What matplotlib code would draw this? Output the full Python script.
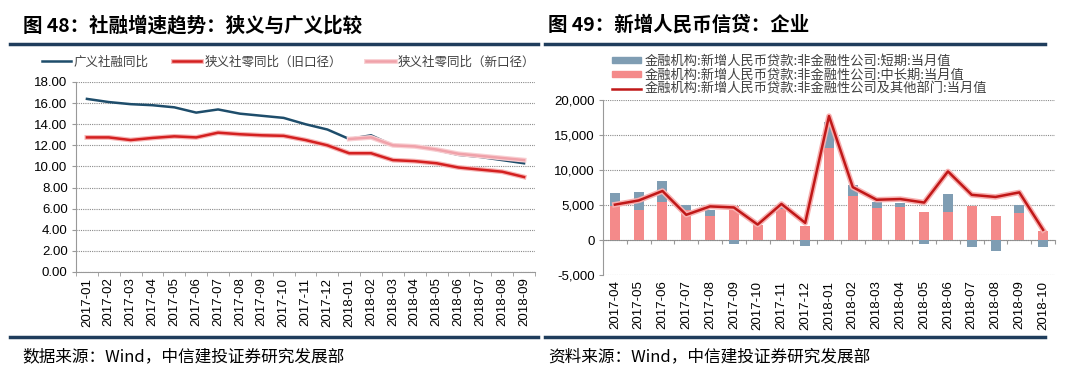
import numpy as np
import matplotlib
matplotlib.use('Agg')
from matplotlib import pyplot as plt
from matplotlib import patheffects as pe
from matplotlib.lines import Line2D
from matplotlib.patches import Patch

plt.rcParams['font.family'] = ['Liberation Sans', 'Noto Sans CJK SC', 'DejaVu Sans']
plt.rcParams['axes.unicode_minus'] = False

# 图48 数据
months48 = ['2017-01', '2017-02', '2017-03', '2017-04', '2017-05', '2017-06', '2017-07',
            '2017-08', '2017-09', '2017-10', '2017-11', '2017-12', '2018-01', '2018-02',
            '2018-03', '2018-04', '2018-05', '2018-06', '2018-07', '2018-08', '2018-09']
broad = [16.4, 16.1, 15.9, 15.8, 15.6, 15.1, 15.4, 15.0, 14.8, 14.6, 14.0, 13.5,
         12.6, 12.95, 12.0, 11.9, 11.55, 11.1, 10.9, 10.6, 10.3]
narrow_old = [12.75, 12.75, 12.5, 12.7, 12.85, 12.75, 13.2, 13.05, 12.95, 12.9, 12.5, 12.0,
              11.25, 11.25, 10.6, 10.5, 10.3, 9.9, 9.7, 9.5, 9.0]
narrow_new = [np.nan] * 12 + [12.6, 12.75, 12.0, 11.9, 11.6, 11.2, 11.0, 10.8, 10.6]

# 图49 数据
months49 = ['2017-04', '2017-05', '2017-06', '2017-07', '2017-08', '2017-09', '2017-10',
            '2017-11', '2017-12', '2018-01', '2018-02', '2018-03', '2018-04', '2018-05',
            '2018-06', '2018-07', '2018-08', '2018-09', '2018-10']
short_term = [1800, 2550, 2950, 650, 850, -530, 0, 350, -900, 3650, 1650, 850, 700, -550,
              2550, -950, -1550, 1100, -1000]
mid_long = [4900, 4300, 5500, 4300, 3500, 4800, 2200, 4450, 2050, 13150, 6250, 4550, 4650,
            4000, 4000, 4800, 3450, 3850, 1350]
total = [5050, 5650, 7000, 3600, 4800, 4650, 2200, 5150, 2450, 17700, 7550, 5750, 5850,
         5350, 9800, 6450, 6150, 6800, 1450]

navy = '#1f3d5c'
grid_kw = dict(color='#8a8a8a', linestyle=(0, (1, 1)), linewidth=0.8)

fig = plt.figure(figsize=(10.8, 3.78), dpi=100)

# 标题和分隔线
fig.text(23 / 1080, 1 - 25 / 378, '图 48：社融增速趋势：狭义与广义比较', fontsize=14,
         fontweight='bold', va='center', family=['Noto Sans CJK SC'])
fig.text(548 / 1080, 1 - 25 / 378, '图 49：新增人民币信贷：企业', fontsize=14,
         fontweight='bold', va='center', family=['Noto Sans CJK SC'])
for x0, x1 in [(10, 538), (545, 1045)]:
    for yy in [44, 337]:
        fig.lines.append(Line2D([x0 / 1080, x1 / 1080], [1 - yy / 378, 1 - yy / 378],
                                transform=fig.transFigure, color=navy, linewidth=2.5))
fig.text(22 / 1080, 1 - 357 / 378, '数据来源：Wind，中信建投证券研究发展部', fontsize=12,
         va='center', style='italic', family=['Noto Sans CJK SC'])
fig.text(548 / 1080, 1 - 357 / 378, '资料来源：Wind，中信建投证券研究发展部', fontsize=12,
         va='center', style='italic', family=['Noto Sans CJK SC'])

# ---- 图48 ----
ax1 = fig.add_axes([76 / 1080, 1 - 272 / 378, (535 - 76) / 1080, (272 - 82) / 378])
x1 = np.arange(len(months48))
ax1.plot(x1, broad, color='#1e4d6b', linewidth=1.8, label='广义社融同比')
ax1.plot(x1, narrow_old, color='#d42020', linewidth=1.8, label='狭义社零同比（旧口径）',
         path_effects=[pe.Stroke(linewidth=3.5, foreground='#f6b5b5'), pe.Normal()])
ax1.plot(x1, narrow_new, color='#f0a2aa', linewidth=1.8, label='狭义社零同比（新口径）',
         path_effects=[pe.Stroke(linewidth=3.5, foreground='#f9d0d3'), pe.Normal()])
ax1.set_ylim(0, 18)
ax1.set_yticks(np.arange(0, 18.1, 2))
ax1.set_yticklabels(['%.2f' % v for v in np.arange(0, 18.1, 2)])
ax1.set_xlim(-0.5, len(months48) - 0.5)
ax1.set_xticks(x1)
ax1.set_xticklabels(months48, rotation=90)
ax1.set_xticks(np.arange(-0.5, len(months48)), minor=True)
ax1.tick_params(axis='x', which='major', length=0, labelsize=9.5, pad=4)
ax1.tick_params(axis='x', which='minor', length=3, color='#999999')
ax1.tick_params(axis='y', length=3, color='#999999', labelsize=9.5, pad=3)
ax1.yaxis.grid(True, **grid_kw)
ax1.set_axisbelow(True)
for s in ['top', 'right']:
    ax1.spines[s].set_visible(False)
for s in ['left', 'bottom']:
    ax1.spines[s].set_color('#999999')
leg1 = ax1.legend(loc='center left', bbox_to_anchor=(42 / 1080, 1 - 62 / 378),
                  bbox_transform=fig.transFigure, ncol=3, frameon=False,
                  handlelength=2.3, handletextpad=0.25, columnspacing=1.9, borderaxespad=0,
                  borderpad=0, prop={'family': ['Noto Sans CJK SC'], 'size': 9})
for t in leg1.get_texts():
    t.set_color('#404040')

# ---- 图49 ----
ax2 = fig.add_axes([603 / 1080, 1 - 275 / 378, (1055 - 603) / 1080, (275 - 100) / 378])
x2 = np.arange(len(months49))
short_arr = np.array(short_term)
mid_arr = np.array(mid_long)
bottoms = np.where(short_arr > 0, mid_arr, 0)
ax2.bar(x2, mid_long, width=0.42, color='#f48a8a', zorder=2)
ax2.bar(x2, short_term, width=0.42, bottom=bottoms, color='#7f9db3', zorder=2)
ax2.plot(x2, total, color='#c01818', linewidth=1.8, zorder=3,
         path_effects=[pe.Stroke(linewidth=4, foreground='#f7b0b0'), pe.Normal()])
ax2.set_ylim(-5000, 20000)
ax2.set_yticks(np.arange(-5000, 20001, 5000))
ax2.yaxis.set_major_formatter(matplotlib.ticker.FuncFormatter(lambda v, p: '{:,.0f}'.format(v)))
ax2.set_xlim(-0.5, len(months49) - 0.5)
ax2.set_xticks(x2)
ax2.set_xticklabels(months49, rotation=90)
ax2.tick_params(axis='x', length=0, labelsize=9.5, pad=4)
ax2.tick_params(axis='y', length=3, color='#999999', labelsize=9.5, pad=3)
ax2.yaxis.grid(True, **grid_kw)
ax2.set_axisbelow(True)
for s in ['top', 'right', 'bottom']:
    ax2.spines[s].set_visible(False)
ax2.spines['left'].set_color('#999999')
zero_ax = ax2.secondary_xaxis(0.2)
zero_ax.set_xticks(np.arange(-0.5, len(months49)))
zero_ax.tick_params(axis='x', length=3, color='#999999', labelbottom=False)
zero_ax.spines['bottom'].set_color('#999999')

handles = [Patch(color='#7f9db3'), Patch(color='#f48a8a'),
           Line2D([], [], color='#c01818', linewidth=1.8)]
labels = ['金融机构:新增人民币贷款:非金融性公司:短期:当月值',
          '金融机构:新增人民币贷款:非金融性公司:中长期:当月值',
          '金融机构:新增人民币贷款:非金融性公司及其他部门:当月值']
leg2 = ax2.legend(handles, labels, loc='upper left', bbox_to_anchor=(612 / 1080, 1 - 55 / 378),
                  bbox_transform=fig.transFigure, frameon=False, handlelength=2.2,
                  handleheight=0.35, handletextpad=0.3, labelspacing=0.05, borderaxespad=0,
                  borderpad=0, prop={'family': ['Noto Sans CJK SC'], 'size': 9.5})
for t in leg2.get_texts():
    t.set_color('#404040')

fig.savefig('out.png', dpi=100)
